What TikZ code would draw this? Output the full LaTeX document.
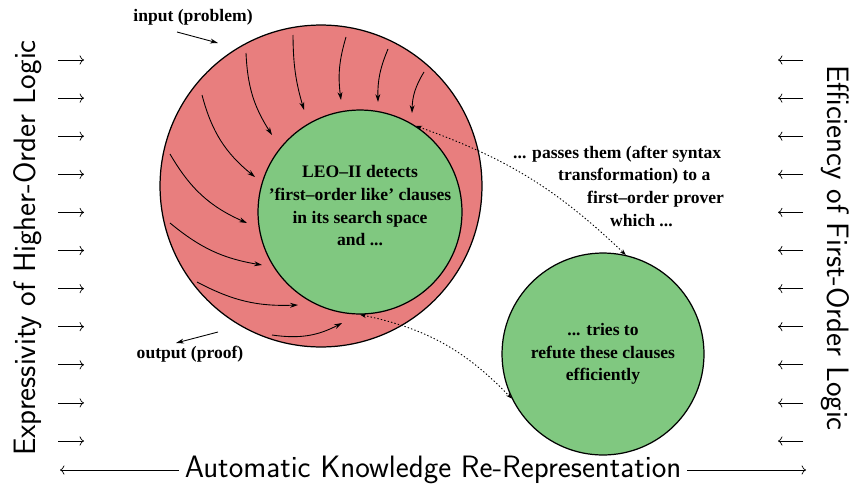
\documentclass[tikz,border=0pt]{standalone}
\usepackage{fontspec}
\setmainfont{Liberation Serif}
\usetikzlibrary{arrows.meta, positioning}

\definecolor{ringred}{RGB}{232,126,126}
\definecolor{discgreen}{RGB}{128,200,128}

\begin{document}
\begin{tikzpicture}[x=0.02cm, y=-0.02cm,
	disc/.style={circle, draw, line width=0.7pt, inner sep=0pt},
	lbl/.style={font=\bfseries\fontsize{10}{12.9}\selectfont, align=center},
	side/.style={font=\sffamily\fontsize{17.6}{20}\selectfont},
	swirl/.style={-{Stealth[length=4.5pt, width=2.8pt]}, line width=0.5pt},
	link/.style={{Stealth[length=3.5pt, width=2.5pt]}-{Stealth[length=3.5pt, width=2.5pt]}, dash pattern=on 0.8pt off 1.2pt, line width=0.5pt}]
				\useasboundingbox (0,0) rectangle (854,490);
				\coordinate (R) at (321,186);
				\coordinate (L) at (360,212);
				\coordinate (P) at (603,354);
				\node[disc, fill=ringred, minimum size=6.44cm] (ring) at (R) {};
				\node[disc, fill=discgreen, minimum size=4.08cm] (leo) at (L) {};
				\node[disc, fill=discgreen, minimum size=4.04cm, lbl] (prover) at (P) {... tries to\\refute these clauses\\efficiently};
				\node[lbl] (detects) at ([yshift=0.12cm]leo.center) {LEO–II detects\\’first–order like’ clauses\\in its search space\\and ...};
				\foreach \xa/\ya/\xb/\yb/\bnd in {293/35/304/110/8, 246/53/272/135/15, 202/95/255/177/18, 170/154/247/223/18, 170/223/262/265/15, 197/282/298/305/15, 272/335/342/323/18, 346/37/341/100/12, 388/49/378/102/12, 424/72/412/113/15}
					\draw[swirl] (\xa,\ya) to[bend right=\bnd] (\xb,\yb);
				\node[lbl] (input) at (193,17) {input (problem)};
				\coordinate (in0) at (177,32);
				\coordinate (in1) at (218,43);
				\draw[swirl] (in0) -- (in1);
				\node[lbl] (output) at (190,354) {output (proof)};
				\coordinate (out0) at (218,332);
				\coordinate (out1) at (176,343);
				\draw[swirl] (out0) -- (out1);
				\node[lbl, align=left, anchor=west] (passes) at (507,186) {... passes them (after syntax\\\hspace*{0.9cm}transformation) to a\\\hspace*{1.48cm}first–order prover\\\hspace*{1.94cm}which ...};
				\draw[link] (leo.57) to[bend left=12] (prover.77);
				\draw[link] (leo.-90) to[bend left=17] (prover.206);
				\foreach \i in {0,...,10} {
					\draw[->] (58,{60+38.1*\i}) -- (84,{60+38.1*\i});
					\draw[->] (803,{60+38.1*\i}) -- (778,{60+38.1*\i});
				}
				\node[side, rotate=90] (expr) at (28,248) {Expressivity of Higher-Order Logic};
				\node[side, rotate=-90] (eff) at (835,248) {Efficiency of First-Order Logic};
				\node[side] (krr) at (433,470) {Automatic Knowledge Re-Representation};
				\coordinate (kl) at (60,470);
				\coordinate (kr) at (806,470);
				\draw[->] (krr) -- (kl);
				\draw[->] (krr) -- (kr);
			\end{tikzpicture}
\end{document}
